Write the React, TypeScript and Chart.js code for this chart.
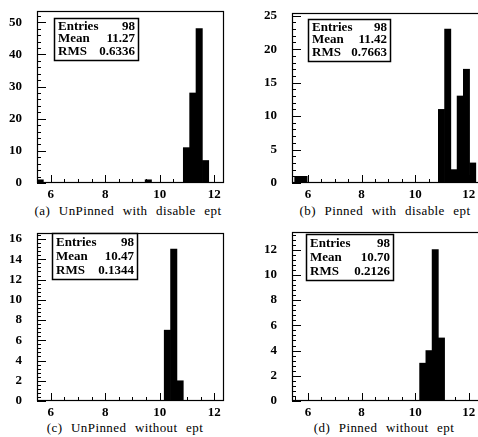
import React, { useEffect, useRef } from "react";
import { Chart, registerables } from "chart.js";

Chart.register(...registerables);

// Histogram bin width (range 5.5 .. 12.5 in 30 bins)
const BIN_WIDTH = 7 / 30;

// (a) UnPinned with disable ept
const lowEdgesA = [5.5, 9.4667, 10.8667, 11.1, 11.3333, 11.5667];
const countsA = [1, 1, 11, 28, 48, 7];
const yTicksA = [0, 10, 20, 30, 40, 50];
const statsA = ["98", "11.27", "0.6336"];

// (b) Pinned with disable ept
const lowEdgesB = [5.5, 5.7333, 10.8667, 11.1, 11.3333, 11.5667, 11.8, 12.0333];
const countsB = [1, 1, 11, 23, 2, 13, 17, 3];
const yTicksB = [0, 5, 10, 15, 20, 25];
const statsB = ["98", "11.42", "0.7663"];

// (c) UnPinned without ept
const lowEdgesC = [10.1667, 10.4, 10.6333];
const countsC = [7, 15, 2];
const yTicksC = [0, 2, 4, 6, 8, 10, 12, 14, 16];
const statsC = ["98", "10.47", "0.1344"];

// (d) Pinned without ept
const lowEdgesD = [10.1667, 10.4, 10.6333, 10.8667];
const countsD = [3, 4, 12, 5];
const yTicksD = [0, 2, 4, 6, 8, 10, 12];
const statsD = ["98", "10.70", "0.2126"];

const xTicks = [6, 8, 10, 12];
const statNames = ["Entries", "Mean", "RMS"];

const FONT = '"Liberation Serif", "DejaVu Serif", serif';

const framePlugin = {
  id: "frameTicks",
  afterDraw(chart: any, _args: any, opts: any) {
    const { ctx, chartArea } = chart;
    const { left, right, top, bottom } = chartArea;
    const xs = chart.scales.x;
    const ys = chart.scales.y;
    ctx.save();
    ctx.strokeStyle = "#000";
    ctx.lineWidth = 1.2;
    ctx.strokeRect(left + 0.5, top + 0.5, right - left - 1, bottom - top - 1);
    ctx.lineWidth = 1;
    ctx.beginPath();
    // x ticks (inward, from bottom)
    const xStep = opts.xMinor;
    for (let v = Math.ceil(xs.min / xStep) * xStep; v <= xs.max + 1e-9; v += xStep) {
      const major = Math.abs(v / 2 - Math.round(v / 2)) < 1e-6;
      const px = Math.round(xs.getPixelForValue(v)) + 0.5;
      ctx.moveTo(px, bottom);
      ctx.lineTo(px, bottom - (major ? 8 : 4));
    }
    // y ticks (inward, from left)
    const yStep = opts.yMinor;
    for (let i = 0; ; i++) {
      const v = i * yStep;
      if (v > ys.max + 1e-9) break;
      const major = opts.yMajor.some((m: number) => Math.abs(m - v) < 1e-6);
      const py = Math.round(ys.getPixelForValue(v)) + 0.5;
      ctx.moveTo(left, py);
      ctx.lineTo(left + (major ? 9 : 4), py);
    }
    ctx.stroke();

    // stats box
    const bx = left + opts.box.dx;
    const by = top + opts.box.dy;
    const bw = opts.box.w;
    const bh = opts.box.h;
    ctx.fillStyle = "#fff";
    ctx.fillRect(bx, by, bw, bh);
    ctx.lineWidth = 1.5;
    ctx.strokeRect(bx + 0.5, by + 0.5, bw, bh);
    ctx.fillStyle = "#000";
    ctx.font = `bold 13px ${FONT}`;
    ctx.textBaseline = "alphabetic";
    const lineH = (bh - 4) / 3;
    opts.stats.forEach((val: string, i: number) => {
      const y = by + 2 + lineH * (i + 1) - 3;
      ctx.textAlign = "left";
      ctx.fillText(statNames[i], bx + 4, y);
      ctx.textAlign = "right";
      ctx.fillText(val, bx + bw - 3, y);
    });
    ctx.restore();
  },
};

type PanelProps = {
  left: number;
  top: number;
  width: number;
  height: number;
  padTop: number;
  padRight: number;
  xMin: number;
  xMax: number;
  yMax: number;
  yTicks: number[];
  yMinor: number;
  lowEdges: number[];
  counts: number[];
  stats: string[];
  box: { dx: number; dy: number; w: number; h: number };
  caption: string;
  capX: number;
  capY: number;
};

function Panel(p: PanelProps) {
  const ref = useRef<HTMLCanvasElement | null>(null);
  useEffect(() => {
    if (!ref.current) return;
    const chart = new Chart(ref.current, {
      type: "bar",
      data: {
        datasets: [
          {
            data: p.lowEdges.map((e, i) => ({ x: e + BIN_WIDTH / 2, y: p.counts[i] })),
            backgroundColor: "#000",
            borderWidth: 0,
            barPercentage: 1,
            categoryPercentage: 1,
          } as any,
        ],
      },
      options: {
        animation: false,
        responsive: false,
        maintainAspectRatio: false,
        layout: { padding: { left: 0, right: p.padRight, top: p.padTop, bottom: 0 } },
        plugins: {
          legend: { display: false },
          tooltip: { enabled: false },
          title: { display: false },
          frameTicks: {
            xMinor: 0.5,
            yMinor: p.yMinor,
            yMajor: p.yTicks,
            stats: p.stats,
            box: p.box,
          },
        } as any,
        scales: {
          x: {
            type: "linear",
            offset: false,
            min: p.xMin,
            max: p.xMax,
            grid: { display: false, drawTicks: false },
            border: { display: false },
            ticks: {
              padding: 4,
              color: "#000",
              font: { family: FONT, size: 13, weight: "bold" },
              maxRotation: 0,
              autoSkip: false,
            },
            afterBuildTicks: (s: any) => {
              s.ticks = xTicks.map((v) => ({ value: v }));
            },
            afterFit: (s: any) => {
              s.height = p.height - 183;
              s.paddingLeft = 0;
              s.paddingRight = 0;
            },
          },
          y: {
            min: 0,
            max: p.yMax,
            grid: { display: false, drawTicks: false },
            border: { display: false },
            ticks: {
              padding: 15,
              color: "#000",
              font: { family: FONT, size: 13, weight: "bold" },
              autoSkip: false,
            },
            afterBuildTicks: (s: any) => {
              s.ticks = p.yTicks.map((v) => ({ value: v }));
            },
            afterFit: (s: any) => {
              s.width = 37;
              s.paddingTop = 0;
              s.paddingBottom = 0;
            },
          },
        } as any,
      },
      plugins: [framePlugin as any],
    });
    return () => chart.destroy();
  }, []);
  return (
    <>
      <canvas
        ref={ref}
        width={p.width}
        height={p.height}
        style={{ position: "absolute", left: p.left, top: p.top, width: p.width, height: p.height }}
      />
      <div
        style={{
          position: "absolute",
          left: p.capX,
          top: p.capY,
          transform: "translateX(-50%)",
          whiteSpace: "nowrap",
          fontFamily: FONT,
          fontSize: 13,
          wordSpacing: 5,
          letterSpacing: 0.4,
          color: "#000",
          lineHeight: "14px",
        }}
      >
        {p.caption}
      </div>
    </>
  );
}

export default function App() {
  return (
    <div
      style={{
        position: "absolute",
        left: 0,
        top: 0,
        width: 478,
        height: 437,
        background: "#fff",
        overflow: "hidden",
      }}
    >
      <Panel
        left={0}
        top={0}
        width={239}
        height={200}
        padTop={11}
        padRight={15}
        xMin={5.5}
        xMax={12.36}
        yMax={53.5}
        yTicks={yTicksA}
        yMinor={2}
        lowEdges={lowEdgesA}
        counts={countsA}
        stats={statsA}
        box={{ dx: 17, dy: 7, w: 84, h: 42 }}
        caption="(a) UnPinned with disable ept"
        capX={128}
        capY={204}
      />
      <Panel
        left={255}
        top={0}
        width={226}
        height={200}
        padTop={13}
        padRight={0}
        xMin={5.4}
        xMax={12.46}
        yMax={25.4}
        yTicks={yTicksB}
        yMinor={1}
        lowEdges={lowEdgesB}
        counts={countsB}
        stats={statsB}
        box={{ dx: 16, dy: 6, w: 82, h: 42 }}
        caption="(b) Pinned with disable ept"
        capX={385}
        capY={204}
      />
      <Panel
        left={0}
        top={218}
        width={239}
        height={200}
        padTop={15}
        padRight={15}
        xMin={5.5}
        xMax={12.36}
        yMax={16.6}
        yTicks={yTicksC}
        yMinor={0.4}
        lowEdges={lowEdgesC}
        counts={countsC}
        stats={statsC}
        box={{ dx: 15, dy: 0, w: 85, h: 46 }}
        caption="(c) UnPinned without ept"
        capX={125}
        capY={421}
      />
      <Panel
        left={255}
        top={218}
        width={226}
        height={200}
        padTop={14}
        padRight={0}
        xMin={5.4}
        xMax={12.46}
        yMax={13.4}
        yTicks={yTicksD}
        yMinor={0.4}
        lowEdges={lowEdgesD}
        counts={countsD}
        stats={statsD}
        box={{ dx: 14, dy: 2, w: 87, h: 46 }}
        caption="(d) Pinned without ept"
        capX={384}
        capY={421}
      />
    </div>
  );
}
